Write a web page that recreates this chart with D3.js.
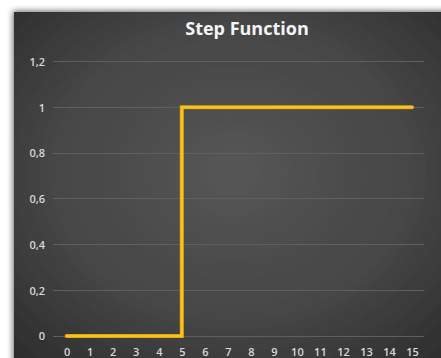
<!DOCTYPE html>
<html>
<head>
<meta charset="utf-8">
<script src="https://cdn.jsdelivr.net/npm/d3@7"></script>
<style>
  html, body { margin: 0; padding: 0; background: #ffffff; }
  svg { display: block; }
</style>
</head>
<body>
<svg id="chart" width="441" height="358"></svg>
<script>
const title = "Step Function";
const xValues = [0, 1, 2, 3, 4, 5, 6, 7, 8, 9, 10, 11, 12, 13, 14, 15];
const yValues = [0, 0, 0, 0, 0, 1, 1, 1, 1, 1, 1, 1, 1, 1, 1, 1];
const yTicks = [0, 0.2, 0.4, 0.6, 0.8, 1, 1.2];

const W = 441, H = 358;
const svg = d3.select("#chart");
const defs = svg.append("defs");

const rg = defs.append("radialGradient").attr("id", "bg")
  .attr("cx", "50%").attr("cy", "45%").attr("r", "75%");
rg.append("stop").attr("offset", "0%").attr("stop-color", "#565656");
rg.append("stop").attr("offset", "55%").attr("stop-color", "#464646");
rg.append("stop").attr("offset", "100%").attr("stop-color", "#2a2a2a");

const sh = defs.append("filter").attr("id", "shadow")
  .attr("x", "-10%").attr("y", "-10%").attr("width", "120%").attr("height", "120%");
sh.append("feGaussianBlur").attr("in", "SourceAlpha").attr("stdDeviation", 3).attr("result", "b");
sh.append("feOffset").attr("in", "b").attr("dx", -1).attr("dy", -1).attr("result", "o");
sh.append("feComponentTransfer").attr("in", "o").attr("result", "o2")
  .append("feFuncA").attr("type", "linear").attr("slope", 0.6);
const m = sh.append("feMerge");
m.append("feMergeNode").attr("in", "o2");
m.append("feMergeNode").attr("in", "SourceGraphic");

svg.append("rect")
  .attr("x", 14).attr("y", 12).attr("width", W - 14 + 10).attr("height", H - 12 + 10)
  .attr("fill", "url(#bg)")
  .attr("filter", "url(#shadow)");

const x = d3.scaleLinear().domain([0, 15]).range([66.7, 412]);
const y = d3.scaleLinear().domain([0, 1.2]).range([336, 61.5]);

const loc = d3.formatLocale({ decimal: ",", thousands: ".", grouping: [3], currency: ["", ""] });
const fmt = loc.format("~g");

const gridX0 = 53, gridX1 = 424;
const labelFont = "'Open Sans', Lato, sans-serif";

// gridlines
svg.append("g").selectAll("line").data(yTicks).join("line")
  .attr("x1", gridX0).attr("x2", gridX1)
  .attr("y1", d => y(d)).attr("y2", d => y(d))
  .attr("stroke", "#5f5f5f").attr("stroke-width", 1)
  .attr("shape-rendering", "crispEdges");

// y axis labels
const yAxis = d3.axisLeft(y).tickValues(yTicks).tickFormat(fmt).tickSize(0).tickPadding(0);
const gy = svg.append("g").attr("transform", "translate(45,0)").call(yAxis);
gy.select(".domain").remove();
gy.selectAll("text")
  .attr("fill", "#d8d8d8")
  .style("font-family", labelFont)
  .style("font-size", "11px")
  .style("font-weight", "600")
  .attr("dy", "0.35em");

// x axis labels
const xAxis = d3.axisBottom(x).tickValues(xValues).tickFormat(d => String(d)).tickSize(0).tickPadding(0);
const gx = svg.append("g").attr("transform", "translate(0,348)").call(xAxis);
gx.select(".domain").remove();
gx.selectAll("text")
  .attr("fill", "#d8d8d8")
  .style("font-family", labelFont)
  .style("font-size", "11px")
  .style("font-weight", "600")
  .attr("dy", "0.71em");

// step line
const pts = xValues.map((d, i) => [d, yValues[i]]);
const line = d3.line().x(d => x(d[0])).y(d => y(d[1])).curve(d3.curveStepAfter);
svg.append("path").datum(pts)
  .attr("d", line)
  .attr("fill", "none")
  .attr("stroke", "#c98a10")
  .attr("stroke-width", 4.2)
  .attr("stroke-linecap", "round")
  .attr("stroke-linejoin", "miter");
svg.append("path").datum(pts)
  .attr("d", line)
  .attr("fill", "none")
  .attr("stroke", "#f7c31c")
  .attr("stroke-width", 3)
  .attr("stroke-linecap", "round")
  .attr("stroke-linejoin", "miter");

// title
svg.append("text")
  .attr("x", 247).attr("y", 35)
  .attr("text-anchor", "middle")
  .attr("fill", "#f4f4f4")
  .style("font-family", labelFont)
  .style("font-size", "18px")
  .style("font-weight", "bold")
  .text(title);
</script>
</body>
</html>
